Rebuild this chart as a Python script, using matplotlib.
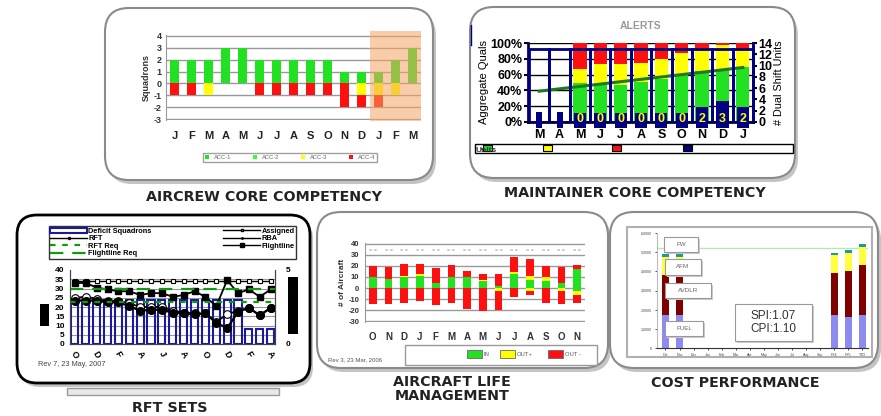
import matplotlib
matplotlib.use("Agg")
import matplotlib.pyplot as plt
from matplotlib.patches import FancyBboxPatch, Rectangle, Patch
from matplotlib.lines import Line2D

W, H = 881, 416
plt.rcParams["font.family"] = ["Liberation Sans", "DejaVu Sans"]

# ---------------- data ----------------
# aircrew core competency
acc_months = ["J", "F", "M", "A", "M", "J", "J", "A", "S", "O", "N", "D", "J", "F", "M"]
acc1 = [2, 2, 2, 3, 3, 2, 2, 2, 2, 2, 1, 1, 1, 2, 3]
acc2 = [0, 0, 0, 0, 0, 0, 0, 0, 0, 0, 0, 0, 0, 0, 0]
acc3 = [0, 0, -1, 0, 0, 0, 0, 0, 0, 0, 0, -1, -1, -1, 0]
acc4 = [-1, -1, 0, 0, 0, -1, -1, -1, -1, -1, -2, -1, -1, 0, 0]

# maintainer core competency
mcc_months = ["M", "A", "M", "J", "J", "A", "S", "O", "N", "D", "J"]
mcc_green = [0, 0, 49, 47, 47, 51, 54, 60, 64, 66, 70]
mcc_yellow = [0, 0, 18, 26, 26, 24, 26, 27, 28, 32, 22]
mcc_red = [0, 0, 33, 27, 27, 25, 20, 13, 8, 2, 8]
mcc_trend = [39, 42, 45, 48, 51, 54, 57, 60, 63, 66, 69]
dual_units = [None, None, 0, 0, 0, 0, 0, 0, 2, 3, 2]

# RFT sets
rft_months = ["O", "N", "D", "J", "F", "M", "A", "M", "J", "J",
              "A", "S", "O", "N", "D", "J", "F", "M", "A"]
deficit = [3, 3, 3, 3, 3, 3, 3, 3, 3, 3, 3, 3, 3, 3, 3, 3, 1, 1, 1]
assigned = [34, 34, 34, 34, 34, 34, 34, 34, 34, 34, 34, 34, 34, 34, 34, 34, 34, 34, 34]
flightline = [33, 33, 30.5, 29.5, 28.5, 28.5, 26.5, 27.5, 27.5, 25.5,
              26.5, 28.5, 25.5, 20.5, 34.5, 27.5, 29.5, 25.5, 29.5]
rft = [23.5, 23.5, 23.5, 22.5, 22.5, 20.5, 18, 18.5, 18.5, 17,
       16.5, 16, 16.5, 11.5, 8.5, 17.5, 19.5, 15.5, 19.5]
rba = [25, 25.5, 24.5, 23, 23.5, 22, 20, 20, 20, 18,
       17, 16.5, 16.5, 12, 16, 18, 19.5, 15.5, 19.5]
rft_req = 22.5
flightline_req = 30

# aircraft life management
alm_months = ["O", "N", "D", "J", "F", "M", "A", "M", "J", "J", "A", "S", "O", "N"]
in_pos = [10, 8, 10, 11, 5, 10, 10, 6, 2, 13, 7, 6, 5, 17]
outp_pos = [0, 0, 0.5, 1.5, 0, 0, 0, 1.5, 0, 1.5, 4, 4, 0, 0]
outm_pos = [10, 11, 11, 9.5, 13, 11, 5.5, 5, 10.5, 13, 15, 9.5, 14, 4]
in_neg = [0, 0, 0, 0, 0, 0, 0, 0, 0, 0, 0, 0, 0, -3]
outp_neg = [0, 0, 0, 0, 0, 0, 0, 0, -3, 0, -3, 0, -3, -3]
outm_neg = [-14, -14, -13, -12, -15, -13, -19, -21, -17, -8, -3.5, -13, -11, -7]

# cost performance
cost_cats = ["Oct", "Nov", "Dec", "Jan", "Feb", "Mar", "Apr", "May",
             "Jun", "Jul", "Aug", "Sep", "FY4", "FY5", "YTD"]
fuel = [1.71, 1.71, 0, 0, 0, 0, 0, 0, 0, 0, 0, 0, 1.71, 1.63, 1.71]
avdlr = [2.1, 2.1, 0, 0, 0, 0, 0, 0, 0, 0, 0, 0, 2.19, 2.41, 2.63]
afm = [0.92, 0.92, 0, 0, 0, 0, 0, 0, 0, 0, 0, 0, 0.96, 0.94, 0.92]
fw = [0.19, 0.19, 0, 0, 0, 0, 0, 0, 0, 0, 0, 0, 0.09, 0.11, 0.16]
cost_target = 5.24
spi, cpi = 1.07, 1.10

GREEN, YELLOW, RED, NAVY = "#22e022", "#ffff00", "#ff1010", "#000080"

fig = plt.figure(figsize=(W / 100, H / 100), dpi=100)


def px_axes(x0, y0, x1, y1, **kw):
    return fig.add_axes([x0 / W, 1 - y1 / H, (x1 - x0) / W, (y1 - y0) / H], **kw)


bg = px_axes(0, 0, W, H)
bg.set_xlim(0, W)
bg.set_ylim(H, 0)
bg.axis("off")
bg.set_zorder(-5)


def panel(x0, y0, x1, y1, edge="#8a8a8a", lw=1.5, r=24):
    style = f"round,pad=0,rounding_size={r}"
    bg.add_patch(FancyBboxPatch((x0 + 3, y0 + 4), x1 - x0, y1 - y0, boxstyle=style,
                                fc="#c4c4c4", ec="none"))
    bg.add_patch(FancyBboxPatch((x0, y0), x1 - x0, y1 - y0, boxstyle=style,
                                fc="white", ec=edge, lw=lw))


def title(x, y, s):
    bg.text(x, y, s, ha="center", va="center", fontsize=10.3, fontweight="bold",
            color="#222222", linespacing=0.95, family="DejaVu Sans")


panel(105, 8, 433, 180)
panel(470, 7, 795, 178)
panel(17, 215, 310, 383, edge="black", lw=2, r=20)
panel(317, 212, 608, 368)
panel(610, 212, 878, 368)

title(264, 197, "AIRCREW CORE COMPETENCY")
title(635, 193, "MAINTAINER CORE COMPETENCY")
title(170, 408, "RFT SETS")
title(452, 389, "AIRCRAFT LIFE\nMANAGEMENT")
title(735, 383, "COST PERFORMANCE")

# ---------------- aircrew ----------------
ax = px_axes(166, 35, 421, 120)
x = range(len(acc_months))
ax.bar(x, acc1, width=0.5, color=GREEN, zorder=3, label="ACC-1")
ax.bar(x, acc2, bottom=acc1, width=0.5, color="#33ff33", zorder=3, label="ACC-2")
ax.bar(x, acc3, width=0.5, color=YELLOW, zorder=3, label="ACC-3")
ax.bar(x, acc4, bottom=acc3, width=0.5, color=RED, zorder=3, label="ACC-4")
ax.set_xlim(-0.5, 14.5)
ax.set_ylim(-3.05, 4.05)
ax.set_yticks(range(-3, 5))
ax.set_yticklabels([str(v) for v in range(-3, 5)], fontsize=6.5, fontweight="bold", color="#333")
ax.set_xticks(list(x))
ax.set_xticklabels(acc_months, fontsize=8, fontweight="bold", color="#222")
ax.tick_params(length=0, pad=8)
ax.tick_params(axis="y", pad=3)
ax.grid(axis="y", color="#999999", lw=1, zorder=0)
for s in ["top", "right", "bottom"]:
    ax.spines[s].set_visible(False)
ax.spines["left"].set_color("#999999")
ax.set_ylabel("Squadrons", fontsize=6.5, fontweight="bold", color="#333", labelpad=2)
ax.legend(loc="center", ncol=4, fontsize=4.2, frameon=True, fancybox=False,
          edgecolor="#888", handlelength=0.8, handleheight=0.8, columnspacing=2.2,
          borderpad=0.3, bbox_to_anchor=(200 / W, 1 - 163 / H, 180 / W, 11 / H),
          bbox_transform=fig.transFigure, mode="expand", labelcolor="#666")

# ---------------- maintainer ----------------
ax = px_axes(528, 43, 753, 122)
x = list(range(len(mcc_months)))
ax.bar(x, mcc_green, width=0.65, color=GREEN, zorder=2)
b2 = [g for g in mcc_green]
ax.bar(x, mcc_yellow, bottom=b2, width=0.65, color=YELLOW, zorder=2)
b3 = [g + y for g, y in zip(mcc_green, mcc_yellow)]
ax.bar(x, mcc_red, bottom=b3, width=0.65, color=RED, zorder=2)
ax.plot(x, mcc_trend, color="#1f7a1f", lw=2.2, zorder=4)
ax.set_xlim(-0.55, 10.5)
ax.set_ylim(0, 100)
ax.set_yticks(range(0, 101, 20))
ax.set_yticklabels([f"{v}%" for v in range(0, 101, 20)], fontsize=9, fontweight="bold")
ax.set_xticks(x)
ax.set_xticklabels(mcc_months, fontsize=9, fontweight="bold")
ax.tick_params(axis="x", length=0, pad=5)
ax.tick_params(axis="y", length=3, pad=1, width=1.5)
ax.grid(axis="y", color="black", lw=1, zorder=0)
ax.set_axisbelow(True)
ax.spines["top"].set_visible(False)
for s in ["left", "bottom", "right"]:
    ax.spines[s].set_color(NAVY)
    ax.spines[s].set_linewidth(2)
ax.set_ylabel("Aggregate Quals", fontsize=8, labelpad=1)
ax.set_title("ALERTS", fontsize=7.5, fontweight="bold", color="#999999", pad=10)

ax2 = ax.twinx()
ax2.set_ylim(0, 14)
ax2.set_yticks(range(0, 15, 2))
ax2.set_yticklabels([str(v) for v in range(0, 15, 2)], fontsize=9, fontweight="bold")
ax2.tick_params(length=3, pad=1, width=1.5)
ax2.spines["top"].set_visible(False)
ax2.spines["right"].set_color(NAVY)
ax2.spines["right"].set_linewidth(2)
ax2.set_ylabel("# Dual Shift Units", fontsize=7.8, labelpad=1)
ax2.bar(x, [13] * len(x), width=1.0, fill=False, edgecolor=NAVY, lw=2, zorder=3)
for i, v in enumerate(dual_units):
    if v is None:
        ax2.bar(i, 2.7, bottom=-1.0, width=0.3, color=NAVY, clip_on=False, zorder=4)
    else:
        top_v = max(v + 0.7, 1.6)
        ax2.bar(i, top_v + 1.0, bottom=-1.0, width=0.6, color=NAVY, clip_on=False, zorder=4)
        ax2.text(i, 0.55, str(v), ha="center", va="center", color=YELLOW,
                 fontsize=9, fontweight="bold", zorder=5)

# legend strip
bg.add_patch(Rectangle((475, 144), 318, 9, fc="white", ec="black", lw=1))
for xs, c in zip([483, 543, 612, 683], [GREEN, YELLOW, RED, NAVY]):
    bg.add_patch(Rectangle((xs, 145), 9, 6, fc=c, ec="black", lw=0.8))
bg.text(476, 151, "Units", fontsize=6, fontweight="bold", va="center", color="#333")
bg.plot([471, 471], [25, 45], color=NAVY, lw=1)

# ---------------- RFT sets ----------------
ax = px_axes(70, 270, 275, 344)
x = list(range(len(rft_months)))
axr = ax.twinx()
ax.set_zorder(2)
axr.set_zorder(1)
ax.patch.set_visible(False)
axr.patch.set_visible(True)
axr.patch.set_facecolor("white")
axr.bar(x, deficit, width=0.65, fill=False, edgecolor="#1a1aa0", lw=1.5, zorder=2)
axr.set_ylim(0, 5)
axr.set_yticks([0, 5])
axr.set_yticklabels(["0", "5"], fontsize=6, fontweight="bold")
axr.tick_params(length=0, pad=8)
ax.set_ylim(0, 40)
ax.set_xlim(-0.45, 18.4)
for yv in range(5, 40, 5):
    axr.axhline(yv / 8, color="#999999", lw=0.8, zorder=0)
ax.plot(x, assigned, color="black", lw=1, marker="s", ms=3.5, mfc="white", mec="black", mew=0.8)
ax.plot(x, flightline, color="black", lw=1.3, marker="s", ms=4)
ax.plot(x, rba, color="black", lw=1.3, marker="o", ms=5.5, mfc="white", mew=0.8)
ax.plot(x, rft, color="black", lw=1.6, marker="o", ms=5.5)
ax.axhline(rft_req, color="#119911", lw=1.6, ls=(0, (2.5, 3)))
ax.axhline(flightline_req, color="#119911", lw=1.6, ls=(0, (6, 4)))
ax.set_yticks(range(0, 41, 5))
ax.set_yticklabels([str(v) for v in range(0, 41, 5)], fontsize=6, fontweight="bold")
ax.set_xticks(x[::2])
ax.set_xticklabels(rft_months[::2], fontsize=6.5, fontweight="bold", rotation=-60,
                   ha="center", va="top")
ax.tick_params(length=0, pad=4)
for a in (ax, axr):
    for s in a.spines.values():
        s.set_color("#444444")
        s.set_linewidth(0.8)
    a.spines["top"].set_visible(False)
h_def = Patch(fc="white", ec="#1a1aa0", lw=1.5)
ax.legend([h_def, Line2D([], [], color="black", marker=".", ms=3, lw=1),
           Line2D([], [], color="#119911", lw=1.6, ls=(0, (2.5, 3))),
           Line2D([], [], color="#119911", lw=1.6, ls=(0, (6, 4))),
           Line2D([], [], color="black", marker="s", ms=2, mfc="white", lw=1),
           Line2D([], [], color="black", marker=".", ms=2, lw=1),
           Line2D([], [], color="black", marker="s", ms=2.5, lw=1)],
          ["Deficit Squadrons", "RFT", "RFT Req", "Flightline Req",
           "Assigned", "RBA", "Flightline"],
          loc="center", ncol=2, prop={"weight": "bold", "size": 5.3},
          frameon=True, fancybox=False, edgecolor="black", handlelength=5,
          labelspacing=0.05, borderpad=0.2, handletextpad=0.2, columnspacing=1.5,
          bbox_to_anchor=(45 / W, 1 - 258 / H, 255 / W, 31 / H),
          bbox_transform=fig.transFigure, mode="expand")
bg.text(38, 364, "Rev 7, 23 May, 2007", fontsize=5.3, color="#444", va="center")
bg.add_patch(Rectangle((67, 388), 212, 7, fc="#e8e8e8", ec="#999", lw=1))

# ---------------- aircraft life ----------------
ax = px_axes(365, 243, 585, 322)
x = list(range(len(alm_months)))
p2 = [a + b for a, b in zip(in_pos, outp_pos)]
n2 = [a + b for a, b in zip(in_neg, outp_neg)]
ax.bar(x, in_pos, width=0.5, color=GREEN, zorder=3)
ax.bar(x, outp_pos, bottom=in_pos, width=0.5, color=YELLOW, zorder=3)
ax.bar(x, outm_pos, bottom=p2, width=0.5, color=RED, zorder=3)
ax.bar(x, in_neg, width=0.5, color=GREEN, zorder=3)
ax.bar(x, outp_neg, bottom=in_neg, width=0.5, color=YELLOW, zorder=3)
ax.bar(x, outm_neg, bottom=n2, width=0.5, color=RED, zorder=3)
for i in x:
    ax.text(i, 34, "= =", ha="center", va="center", fontsize=4, color="#888")
ax.set_xlim(-0.5, 13.5)
ax.set_ylim(-30.5, 40.5)
ax.set_yticks(range(-30, 41, 10))
ax.set_yticklabels([str(v) for v in range(-30, 41, 10)], fontsize=5.5, fontweight="bold", color="#333")
ax.set_xticks(x)
ax.set_xticklabels(alm_months, fontsize=7, fontweight="bold", color="#333")
ax.tick_params(length=0, pad=4)
ax.tick_params(axis="x", pad=7)
ax.grid(axis="y", color="#999999", lw=1, zorder=0)
for s in ["top", "right", "bottom"]:
    ax.spines[s].set_visible(False)
ax.spines["left"].set_color("#999999")
ax.set_ylabel("# of Aircraft", fontsize=6, fontweight="bold", color="#333", labelpad=2)
bg.add_patch(Rectangle((405, 345), 192, 20, fc="white", ec="#999", lw=1))
for xs, c, lab in zip([467, 500, 548], [GREEN, YELLOW, RED], ["IN", "OUT+", "OUT -"]):
    bg.add_patch(Rectangle((xs, 350), 15, 8, fc=c, ec="#666", lw=0.6))
    bg.text(xs + 17, 354, lab, fontsize=4.2, color="#555", va="center")
bg.text(328, 360, "Rev 3, 23 Mar, 2006", fontsize=4.3, color="#555", va="center")

# ---------------- cost performance ----------------
bg.add_patch(Rectangle((627, 227), 245, 130, fc="white", ec="#b0b0b0", lw=1.5))
ax = px_axes(657, 233, 868, 348)
x = list(range(len(cost_cats)))
c2 = [a + b for a, b in zip(fuel, avdlr)]
c3 = [a + b for a, b in zip(c2, afm)]
ax.bar(x, fuel, width=0.47, color="#8c8cf0")
ax.bar(x, avdlr, bottom=fuel, width=0.47, color="#800000")
ax.bar(x, afm, bottom=c2, width=0.47, color="#ffff40")
ax.bar(x, fw, bottom=c3, width=0.47, color="#1a9a9a")
ax.axhline(cost_target, color="#b8e6b0", lw=1, zorder=0)
ax.set_xlim(-0.6, 14.4)
ax.set_ylim(0, 6)
ax.set_yticks(range(0, 7))
ax.set_yticklabels(["0"] + [f"{v},0000" for v in range(1, 7)], fontsize=2.6, color="#444")
ax.set_xticks(x)
ax.set_xticklabels(cost_cats, fontsize=2.6, color="#444")
ax.tick_params(length=1.5, width=0.5, pad=2)
for s in ["top", "right"]:
    ax.spines[s].set_visible(False)
ax.spines["left"].set_color("#bbbbbb")
ax.spines["bottom"].set_color("#333333")

# overlay for things drawn on top of the charts
top = px_axes(0, 0, W, H)
top.set_xlim(0, W)
top.set_ylim(H, 0)
top.axis("off")
top.set_zorder(10)
top.patch.set_alpha(0)
top.add_patch(Rectangle((370, 31), 51, 90, fc="#f5a464", ec="none", alpha=0.55))
top.add_patch(Rectangle((40, 304), 9, 22, fc="black"))
top.add_patch(Rectangle((288, 277), 10, 57, fc="black"))
for (x0, y0, x1, y1), lab in zip([(664, 237, 698, 252), (665, 259, 701, 275),
                                  (665, 283, 711, 298), (665, 321, 703, 336)],
                                 ["FW", "AFM", "AVDLR", "FUEL"]):
    top.add_patch(Rectangle((x0 + 1.5, y0 + 1.5), x1 - x0, y1 - y0, fc="#cccccc", ec="none"))
    top.add_patch(Rectangle((x0, y0), x1 - x0, y1 - y0, fc="white", ec="#999", lw=0.8))
    top.text((x0 + x1) / 2, (y0 + y1) / 2, lab, fontsize=4.5, color="#666",
             ha="center", va="center")
top.add_patch(Rectangle((736.5, 305.5), 77, 37, fc="#cccccc", ec="none"))
top.add_patch(Rectangle((735, 304), 77, 37, fc="white", ec="#999", lw=0.8))
top.text(773, 322.5, f"SPI:{spi:.2f}\nCPI:{cpi:.2f}", fontsize=8.5, color="#333",
         ha="center", va="center", linespacing=1.2)

fig.savefig("out.png", dpi=100)
